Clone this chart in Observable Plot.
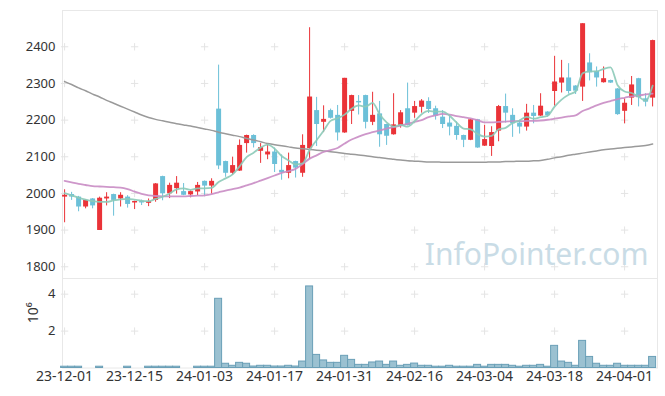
<!DOCTYPE html>
<html><head><meta charset="utf-8">
<script src="https://cdn.jsdelivr.net/npm/d3@7"></script>
<script src="https://cdn.jsdelivr.net/npm/@observablehq/plot@0.6"></script>
<style>
body{margin:0;background:#fff;}
#chart svg{display:block;}
</style></head><body><div id="chart"></div>
<script>
// trading-day index 0..84 (2023-12-01 .. 2024-04-05)
const opens  = [1990,1997,1990,1963,1985,1899,1985,1997,1985,1990,1974,1979,1973,1981,2046,1999,2013,2005,1996,2004,2033,2020,2230,2087,2055,2061,2136,2158,2115,2105,2113,2063,2055,2087,2055,2122,2226,2194,2226,2213,2165,2224,2251,2267,2194,2217,2188,2160,2183,2231,2219,2235,2251,2231,2208,2192,2183,2158,2145,2201,2129,2128,2170,2237,2213,2192,2181,2219,2211,2222,2278,2301,2315,2293,2290,2356,2333,2302,2308,2285,2224,2260,2313,2258,2260];
const closes = [1995,1990,1963,1981,1966,1987,1990,1981,1995,1970,1978,1974,1978,2026,1999,2022,2028,1995,2005,2022,2020,2033,2075,2055,2076,2131,2158,2136,2125,2113,2079,2056,2076,2069,2131,2263,2188,2202,2205,2165,2314,2267,2247,2194,2213,2160,2156,2187,2220,2185,2237,2252,2229,2211,2188,2181,2158,2145,2201,2124,2147,2166,2237,2219,2190,2181,2219,2210,2238,2212,2304,2315,2278,2279,2463,2329,2315,2313,2301,2215,2246,2296,2261,2249,2417];
const highs  = [2010,2003,1992,1982,1986,1990,2002,1998,2002,1994,1979,1982,1985,2027,2047,2028,2046,2027,2007,2030,2034,2040,2350,2088,2099,2146,2159,2160,2136,2133,2124,2105,2110,2088,2160,2452,2262,2239,2230,2240,2314,2268,2267,2268,2276,2251,2189,2272,2226,2301,2251,2256,2261,2238,2226,2213,2195,2159,2202,2202,2186,2182,2240,2271,2231,2200,2243,2240,2272,2223,2374,2363,2354,2294,2463,2381,2345,2345,2309,2286,2258,2319,2314,2272,2418];
const lows   = [1920,1981,1950,1958,1958,1899,1966,1938,1963,1960,1956,1967,1964,1976,1980,1986,1998,1994,1988,1994,1994,1998,2065,2044,2050,2060,2110,2124,2082,2092,2057,2036,2040,2042,2044,2093,2128,2166,2203,2143,2164,2188,2214,2176,2185,2126,2131,2159,2178,2184,2205,2219,2218,2200,2177,2157,2145,2125,2144,2123,2128,2101,2141,2192,2153,2162,2170,2190,2210,2208,2238,2274,2271,2270,2251,2307,2290,2301,2300,2213,2190,2240,2236,2236,2236];
const ma5  = [2001,1995,1988,1983,1979,1977,1977,1981,1984,1985,1983,1980,1979,1985,1991,2000,2011,2014,2010,2014,2014,2015,2031,2041,2052,2074,2099,2111,2125,2133,2122,2102,2090,2079,2082,2119,2145,2171,2198,2205,2215,2231,2240,2237,2247,2216,2194,2182,2187,2182,2197,2216,2225,2223,2223,2212,2193,2177,2175,2162,2155,2157,2175,2179,2192,2199,2209,2204,2208,2212,2237,2256,2269,2278,2328,2333,2333,2340,2344,2295,2278,2274,2264,2253,2294];
const ma20 = [2034,2030,2026,2023,2020,2019,2018,2017,2016,2012,2005,1999,1995,1993,1992,1992,1992,1992,1993,1994,1995,1998,2003,2008,2012,2016,2022,2028,2035,2042,2049,2056,2061,2067,2080,2095,2104,2113,2118,2124,2136,2147,2155,2162,2167,2172,2177,2181,2185,2190,2195,2200,2208,2213,2217,2215,2211,2208,2205,2200,2194,2194,2195,2196,2197,2197,2198,2198,2199,2201,2204,2207,2210,2213,2225,2232,2240,2247,2252,2257,2261,2265,2267,2270,2272];
const ma60 = [2305,2297,2288,2280,2271,2263,2254,2246,2238,2230,2222,2214,2207,2202,2198,2194,2190,2187,2184,2180,2176,2172,2167,2163,2159,2155,2150,2146,2141,2136,2133,2130,2127,2124,2122,2120,2118,2116,2114,2112,2109,2107,2105,2103,2100,2098,2095,2093,2091,2089,2088,2087,2086,2086,2085,2085,2085,2085,2085,2085,2085,2086,2086,2087,2087,2088,2088,2089,2090,2093,2097,2100,2104,2107,2110,2113,2116,2119,2121,2123,2125,2127,2129,2131,2135];
// volume in millions of shares
const volume = [0.07,0.07,0.07,0,0,0.07,0,0,0,0.07,0,0,0.07,0.07,0.07,0.07,0.07,0,0,0.07,0.07,0.07,3.75,0.23,0.12,0.28,0.23,0.08,0.12,0.12,0.08,0.08,0.12,0.08,0.35,4.42,0.71,0.41,0.28,0.28,0.66,0.44,0.17,0.17,0.30,0.35,0.17,0.35,0.12,0.17,0.24,0.12,0.12,0.07,0.07,0.12,0.07,0.07,0.07,0.17,0.07,0.17,0.17,0.17,0.12,0.07,0.12,0.12,0.17,0.07,1.20,0.35,0.28,0.12,1.47,0.60,0.23,0.12,0.12,0.23,0.12,0.12,0.12,0.12,0.60];
const tickIdx = [0,10,20,30,40,50,60,70,80];
const tickLabels = ["23-12-01","23-12-15","24-01-03","24-01-17","24-01-31","24-02-16","24-03-04","24-03-18","24-04-01"];
const priceTicks = [1800,1900,2000,2100,2200,2300,2400];
const volTicks = [2,4];

const RED = "#ea3338", BLUE = "#6cc0d8";
const FONT = "'Noto Sans', sans-serif";
const idx = d3.range(opens.length);
const candles = idx.map(i => ({i, open: opens[i], close: closes[i], high: highs[i], low: lows[i]}));
const up = candles.filter(d => d.close >= d.open);
const down = candles.filter(d => d.close < d.open);
const xDomain = [-0.3, 84.7];

const price = Plot.plot({
  width: 665, height: 278,
  marginTop: 10, marginBottom: 0, marginLeft: 62, marginRight: 8,
  x: {domain: xDomain, axis: null},
  y: {domain: [1768, 2499], axis: null},
  style: {fontFamily: FONT, fontSize: "13px", color: "#333", background: "transparent"},
  marks: [
    Plot.frame({stroke: "#e8e8e8"}),
    Plot.dot(d3.cross(tickIdx, priceTicks), {x: d => d[0], y: d => d[1], symbol: "plus", r: 2.5, stroke: "#e4e4e4", strokeWidth: 1}),
    Plot.text(["InfoPointer.com"], {frameAnchor: "bottom-right", dx: -9, dy: -14, fontSize: 30, fill: "#c9dce6", fontFamily: FONT}),
    Plot.ruleX(up, {x: "i", y1: "low", y2: "high", stroke: RED, strokeWidth: 1}),
    Plot.ruleX(down, {x: "i", y1: "low", y2: "high", stroke: BLUE, strokeWidth: 1}),
    Plot.ruleX(up, {x: "i", y1: "open", y2: "close", stroke: RED, strokeWidth: 5}),
    Plot.ruleX(down, {x: "i", y1: "open", y2: "close", stroke: BLUE, strokeWidth: 5}),
    Plot.line(idx, {x: d => d, y: i => ma60[i], stroke: "#9a9a9a", strokeWidth: 1.5, curve: "monotone-x"}),
    Plot.line(idx, {x: d => d, y: i => ma20[i], stroke: "#c98cc4", strokeWidth: 1.8, strokeOpacity: 0.9, curve: "monotone-x"}),
    Plot.line(idx, {x: d => d, y: i => ma5[i], stroke: "#8ccab8", strokeWidth: 1.8, strokeOpacity: 0.9, curve: "monotone-x"}),
    Plot.axisY({ticks: priceTicks, tickFormat: "d", tickSize: 0, tickPadding: 7, label: null, fontSize: 13})
  ]
});

const vols = idx.filter(i => volume[i] > 0);
const vol = Plot.plot({
  width: 665, height: 118,
  marginTop: 0, marginBottom: 28.5, marginLeft: 62, marginRight: 8,
  x: {domain: xDomain},
  y: {domain: [0, 4.85]},
  style: {fontFamily: FONT, fontSize: "13px", color: "#333", background: "transparent"},
  marks: [
    Plot.frame({stroke: "#e8e8e8"}),
    Plot.dot(d3.cross(tickIdx, volTicks), {x: d => d[0], y: d => d[1], symbol: "plus", r: 2.5, stroke: "#e4e4e4", strokeWidth: 1}),
    Plot.rect(vols, {x1: i => i - 0.5, x2: i => i + 0.5, y1: 0, y2: i => volume[i], fill: "#9bc1d1", stroke: "#6a9fb7", strokeWidth: 1}),
    Plot.axisY({ticks: volTicks, tickFormat: "d", tickSize: 0, tickPadding: 7, label: null, fontSize: 13}),
    Plot.axisX({ticks: tickIdx, tickFormat: d => tickLabels[tickIdx.indexOf(d)], tickSize: 0, tickPadding: 3, label: null, fontSize: 14}),
    Plot.text(["10⁶"], {frameAnchor: "left", dx: -29, rotate: -90, fontSize: 14, fill: "#333", fontFamily: FONT})
  ]
});

const el = document.getElementById("chart");
el.append(price, vol);
</script>
</body></html>
